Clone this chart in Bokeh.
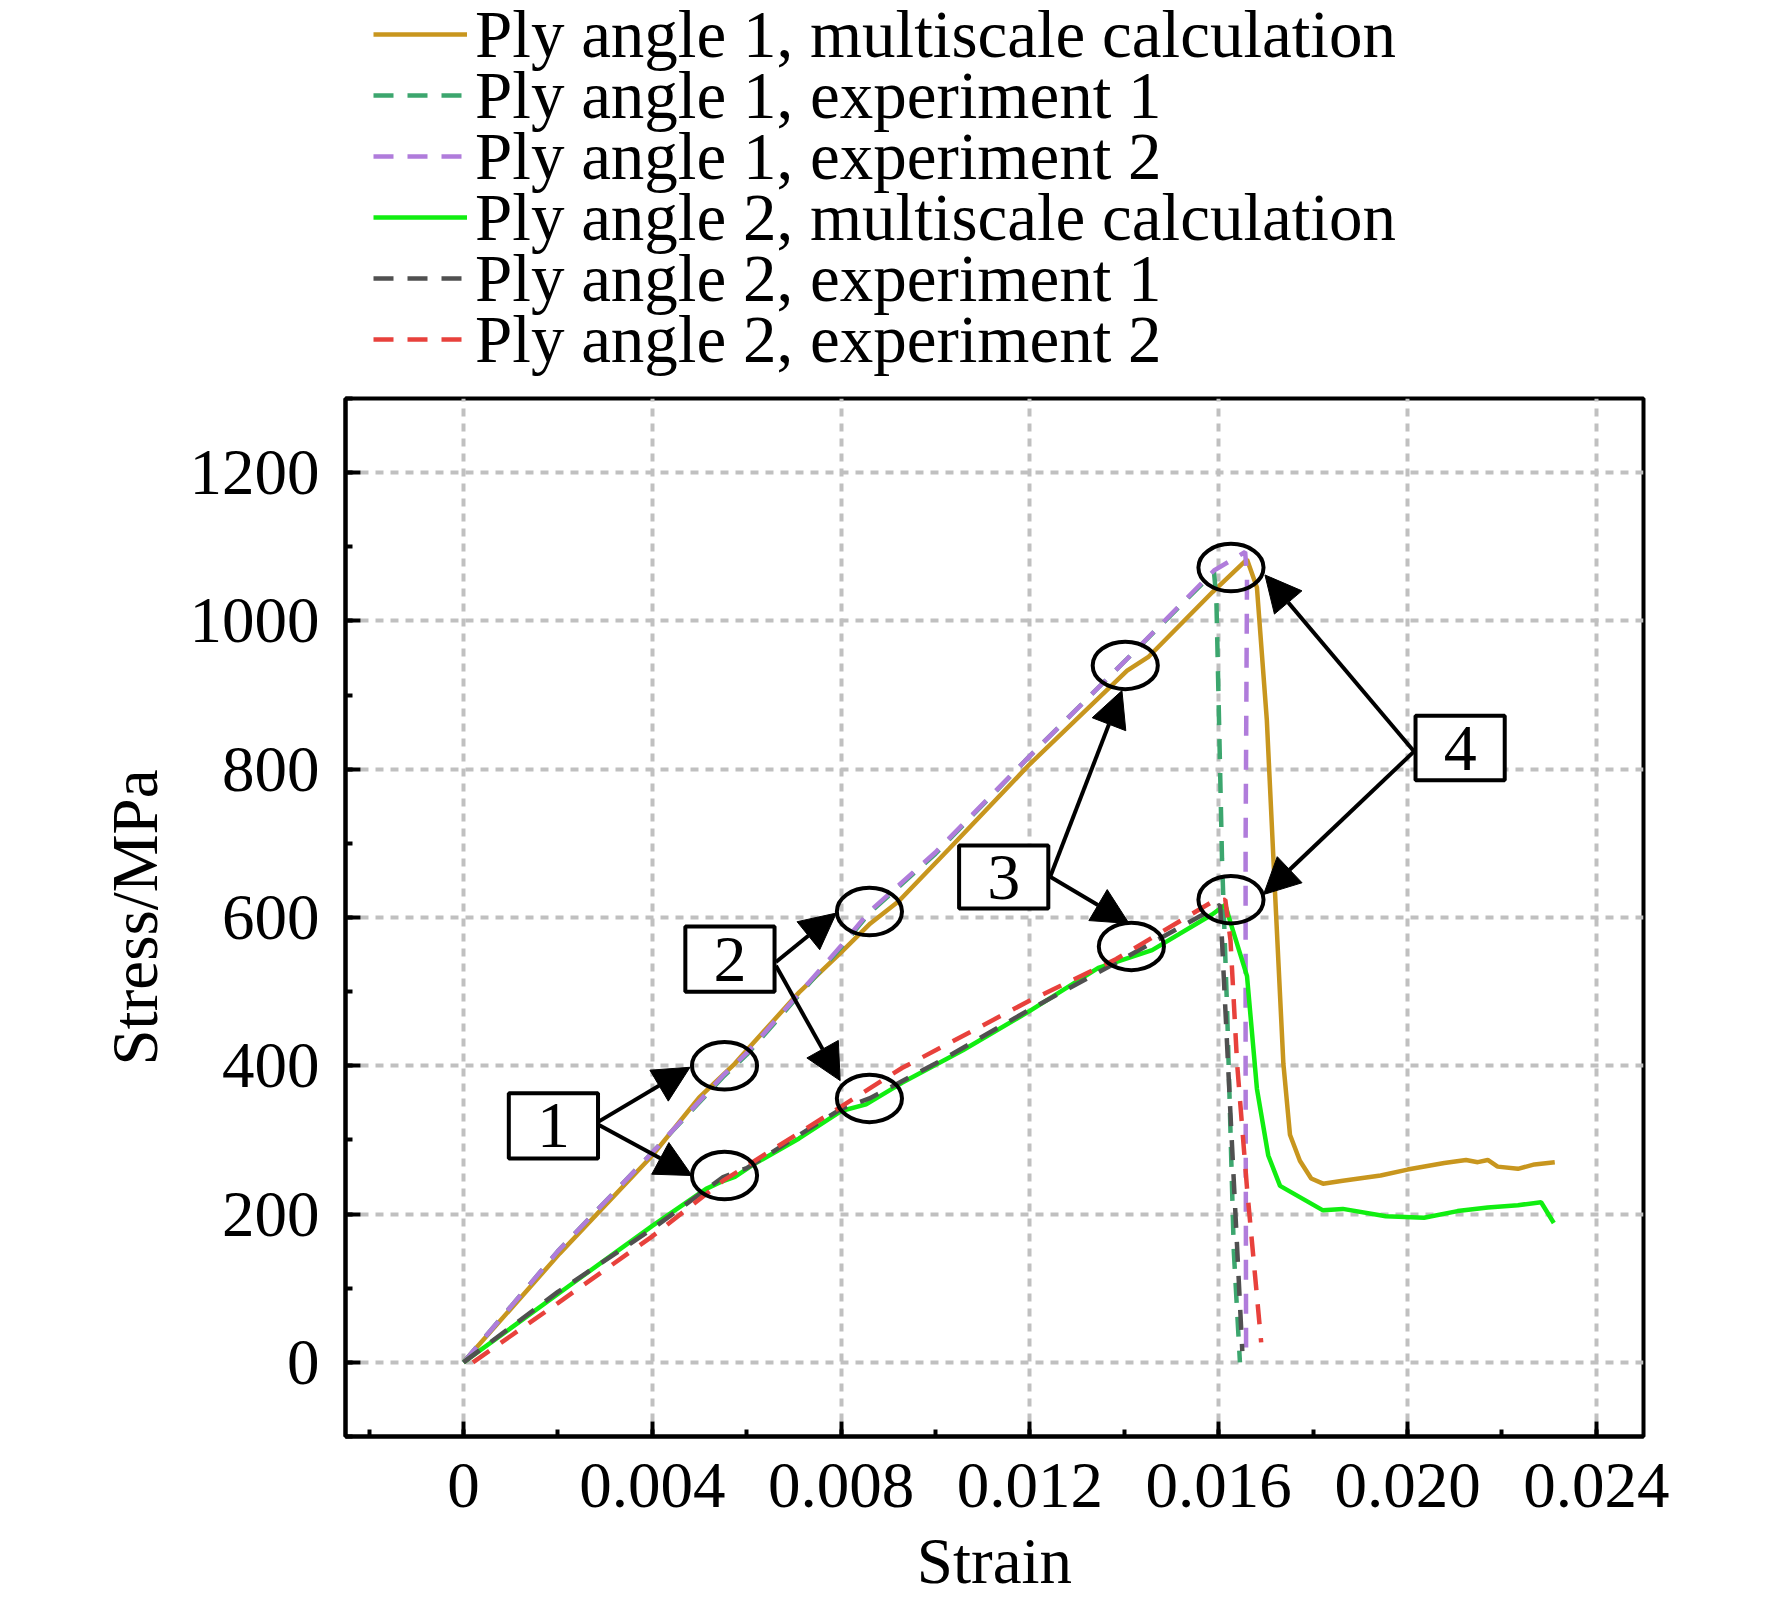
from bokeh.plotting import figure
from bokeh.layouts import column
from bokeh.models import (Range1d, SingleIntervalTicker, CustomJSTickFormatter,
                          ColumnDataSource, Arrow, NormalHead, Legend)
from bokeh.core.properties import value
from bokeh.embed import file_html
from bokeh.resources import INLINE

FONT = "Liberation Serif"

# Ply angle 1, multiscale calculation
ply1_calc_x = [0, 0.00204, 0.004, 0.00499, 0.00575, 0.0059, 0.00711, 0.008, 0.00862, 0.00922,
               0.01028, 0.012, 0.01406, 0.01452, 0.01587, 0.0166, 0.01681, 0.01702, 0.01719,
               0.01737, 0.01751, 0.01772, 0.01796, 0.01821, 0.01863, 0.01943, 0.020, 0.02078,
               0.02124, 0.02149, 0.0217, 0.02191, 0.02234, 0.02269, 0.02312]
ply1_calc_y = [0, 147, 279, 357, 403, 414, 499, 553, 592, 622,
               692, 807, 933, 952, 1039, 1083, 1045, 866, 638,
               403, 307, 272, 248, 241, 245, 252, 260, 269,
               273, 270, 273, 264, 261, 267, 270]

# Ply angle 1, experiment 1
ply1_exp1_x = [0, 0.002, 0.004, 0.0055, 0.006, 0.008, 0.0086, 0.010, 0.012, 0.014, 0.0159,
               0.01595, 0.016, 0.01607, 0.01618, 0.01632, 0.01645]
ply1_exp1_y = [0, 150, 283, 385, 415, 560, 606, 686, 818, 945, 1066,
               1031, 886, 679, 472, 150, 0]

# Ply angle 1, experiment 2
ply1_exp2_x = [0, 0.002, 0.004, 0.0055, 0.006, 0.008, 0.0086, 0.010, 0.012, 0.014, 0.0159,
               0.01656, 0.0166, 0.01657, 0.01657, 0.01658]
ply1_exp2_y = [0, 150, 283, 387, 417, 562, 608, 688, 818, 945, 1068,
               1093, 1060, 700, 400, 20]

# Ply angle 2, multiscale calculation
ply2_calc_x = [0, 0.00219, 0.004, 0.00514, 0.00544, 0.00575, 0.00612, 0.00711, 0.008, 0.00853,
               0.00929, 0.01058, 0.012, 0.01345, 0.01459, 0.01586, 0.01614, 0.01625, 0.0166,
               0.01681, 0.01705, 0.0173, 0.01821, 0.01863, 0.01954, 0.02035, 0.02106, 0.0217,
               0.02234, 0.02283, 0.0231]
ply2_calc_y = [0, 101, 184, 234, 243, 250, 266, 302, 339, 348,
               377, 421, 474, 532, 556, 604, 617, 593, 521,
               369, 279, 238, 205, 207, 197, 195, 204, 209,
               212, 216, 188]

# Ply angle 2, experiment 1
ply2_exp1_x = [0, 0.002, 0.004, 0.0055, 0.006, 0.008, 0.0086, 0.010, 0.012, 0.014, 0.01603,
               0.01607, 0.01625, 0.0165]
ply2_exp1_y = [0, 95, 180, 250, 262, 342, 356, 403, 476, 545, 617,
               569, 334, 15]

# Ply angle 2, experiment 2
ply2_exp2_x = [0.0002, 0.002, 0.004, 0.0055, 0.008, 0.00929, 0.012, 0.01383, 0.01586, 0.01614,
               0.01625, 0.01639, 0.0166, 0.0169]
ply2_exp2_y = [0, 80, 170, 245, 345, 397, 488, 544, 621, 624,
               569, 403, 235, 27]

series_labels = ["Ply angle 1, multiscale calculation", "Ply angle 1, experiment 1",
                 "Ply angle 1, experiment 2", "Ply angle 2, multiscale calculation",
                 "Ply angle 2, experiment 1", "Ply angle 2, experiment 2"]
series_colors = ["#C8961E", "#3CA66E", "#B07CDB", "#11EE11", "#505050", "#E8413C"]
series_dash = ["solid", "20 14", "20 14", "solid", "20 14", "20 14"]

# numbered boxes
box_left = [0.00096, 0.0047, 0.0105, 0.02017]
box_right = [0.00285, 0.00659, 0.01239, 0.02206]
box_bottom = [275, 500, 612, 785]
box_top = [363, 588, 697, 872]
box_labels = ["1", "2", "3", "4"]

# circled regions
ell_x = [0.00553, 0.00553, 0.0086, 0.0086, 0.01402, 0.01415, 0.01626, 0.01626]
ell_y = [400, 252, 608, 356, 940, 561, 1072, 624]

# arrows from boxes to circles
arr_x0 = [0.00287, 0.00287, 0.00662, 0.00662, 0.01243, 0.01243, 0.02014, 0.02014]
arr_y0 = [325, 320, 540, 535, 655, 655, 824, 824]
arr_x1 = [0.0048, 0.00484, 0.0079, 0.00798, 0.01395, 0.0141, 0.01698, 0.01695]
arr_y1 = [398, 252, 606, 380, 906, 592, 1062, 631]

series = [(ply1_calc_x, ply1_calc_y), (ply1_exp1_x, ply1_exp1_y), (ply1_exp2_x, ply1_exp2_y),
          (ply2_calc_x, ply2_calc_y), (ply2_exp1_x, ply2_exp1_y), (ply2_exp2_x, ply2_exp2_y)]

# --- legend strip above the chart (data kept out of view, only the legend shows) ---
top = figure(width=1764, height=390, x_range=Range1d(1, 2), y_range=Range1d(5000, 6000),
             min_border=0, x_axis_location=None, y_axis_location=None,
             output_backend="svg", toolbar_location=None)
top.grid.visible = False
top.outline_line_color = None
items = []
for (xs, ys), lab, col, dsh in zip(series, series_labels, series_colors, series_dash):
    r = top.line(xs, ys, line_color=col, line_width=4.5, line_dash=dsh)
    items.append((lab, [r]))


def make_legend(its, loc):
    return Legend(items=its, location=loc, padding=0, margin=0, spacing=42,
                  border_line_color=None, background_fill_alpha=0,
                  glyph_width=94, glyph_height=80, label_height=80, label_standoff=8,
                  label_text_font=FONT, label_text_font_size="67px",
                  label_text_color="black")


# odd and even rows as two interleaved legends to get the tight row pitch
top.add_layout(make_legend(items[0::2], (28, 72)))
top.add_layout(make_legend(items[1::2], (28, 11)))

# --- main chart ---
p = figure(width=1764, frame_width=1298, frame_height=1038,
           min_border_left=345, min_border_right=121, min_border_top=8, min_border_bottom=160,
           x_range=Range1d(-0.0025, 0.025), y_range=Range1d(-100, 1300),
           output_backend="svg", toolbar_location=None,
           x_axis_label="Strain", y_axis_label="Stress/MPa")

p.xaxis.ticker = SingleIntervalTicker(interval=0.004, num_minor_ticks=2)
p.yaxis.ticker = SingleIntervalTicker(interval=200, num_minor_ticks=2)
p.xaxis.formatter = CustomJSTickFormatter(
    code="return Math.abs(tick) < 1e-9 ? '0' : tick.toFixed(3);")

for ax in (p.xaxis, p.yaxis):
    ax.axis_line_width = 4
    ax.axis_line_color = "black"
    ax.major_tick_in = 15
    ax.major_tick_out = 0
    ax.minor_tick_in = 7
    ax.minor_tick_out = 0
    ax.major_tick_line_width = 4
    ax.minor_tick_line_width = 4
    ax.major_label_text_font = FONT
    ax.major_label_text_font_size = "65px"
    ax.major_label_text_color = "black"
    ax.axis_label_text_font = FONT
    ax.axis_label_text_font_size = "65px"
    ax.axis_label_text_font_style = "normal"
    ax.axis_label_text_color = "black"
p.xaxis.major_label_standoff = 27
p.yaxis.major_label_standoff = 26
p.xaxis.axis_label_standoff = 15
p.yaxis.axis_label_standoff = 16

p.outline_line_color = "black"
p.outline_line_width = 4
p.grid.grid_line_color = "#c0c0c0"
p.grid.grid_line_width = 4
p.grid.grid_line_dash = "8 7"

for (xs, ys), col, dsh in zip(series, series_colors, series_dash):
    p.line(xs, ys, line_color=col, line_width=4.5, line_dash=dsh)

p.ellipse(x=ell_x, y=ell_y, width=0.00138, height=64,
          fill_color=None, line_color="black", line_width=4)

p.quad(left=box_left, right=box_right, bottom=box_bottom, top=box_top,
       fill_color="white", line_color="black", line_width=4)
p.text(x=[(a + b) / 2 for a, b in zip(box_left, box_right)],
       y=[(a + b) / 2 for a, b in zip(box_bottom, box_top)],
       text=box_labels, text_align="center", text_baseline="middle",
       text_font=value(FONT), text_font_size="66px", text_color="black")

arr_src = ColumnDataSource(dict(x0=arr_x0, y0=arr_y0, x1=arr_x1, y1=arr_y1))
p.add_layout(Arrow(x_start="x0", y_start="y0", x_end="x1", y_end="y1", source=arr_src,
                   line_width=4, line_color="black",
                   end=NormalHead(size=36, fill_color="black", line_color="black", line_width=1)))

open("out.html", "w").write(file_html(column(top, p), INLINE))
